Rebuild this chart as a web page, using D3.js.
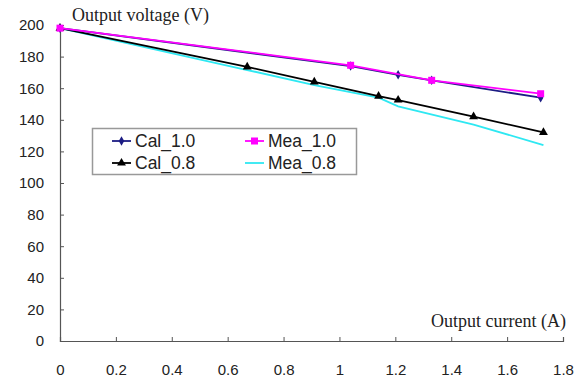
<!DOCTYPE html>
<html>
<head>
<meta charset="utf-8">
<script src="https://cdn.jsdelivr.net/npm/d3@7"></script>
<style>
  body { margin: 0; background: #fff; }
  svg { display: block; }
</style>
</head>
<body>
<div id="chart"></div>
<script>
// data
var xTicks = [0, 0.2, 0.4, 0.6, 0.8, 1, 1.2, 1.4, 1.6, 1.8];
var yTicks = [0, 20, 40, 60, 80, 100, 120, 140, 160, 180, 200];

var cal10X = [0, 1.04, 1.21, 1.33, 1.72];
var cal10Y = [198, 174, 168.5, 165, 154];
var mea10X = [0, 1.04, 1.33, 1.72];
var mea10Y = [198, 174.5, 165, 156.5];
var cal08X = [0, 0.67, 0.91, 1.14, 1.21, 1.48, 1.73];
var cal08Y = [198, 173.5, 164, 155, 152.5, 142, 132];
var mea08X = [0, 0.67, 0.91, 1.14, 1.21, 1.48, 1.73];
var mea08Y = [198, 171.5, 162, 154, 148.5, 137, 124];

var series = [
  { name: 'Cal_1.0', xs: cal10X, ys: cal10Y, color: '#1c1c84', marker: 'diamond' },
  { name: 'Mea_1.0', xs: mea10X, ys: mea10Y, color: '#ff00ff', marker: 'square' },
  { name: 'Cal_0.8', xs: cal08X, ys: cal08Y, color: '#000000', marker: 'triangle' },
  { name: 'Mea_0.8', xs: mea08X, ys: mea08Y, color: '#2ee8f2', marker: null }
];
// draw order: keep magenta above navy
var drawOrder = [3, 2, 0, 1];

var width = 585, height = 379;
var x = d3.scaleLinear().domain([0, 1.8]).range([60, 563]);
var y = d3.scaleLinear().domain([0, 200]).range([341, 25]);

var svg = d3.select('#chart').append('svg')
  .attr('width', width)
  .attr('height', height);

// axes
var xAxis = svg.append('g')
  .attr('transform', 'translate(0,341)')
  .call(d3.axisBottom(x).tickValues(xTicks).tickSize(-4).tickPadding(20)
    .tickFormat(function(d) { return d3.format('')(d); }));
var yAxis = svg.append('g')
  .attr('transform', 'translate(60,0)')
  .call(d3.axisLeft(y).tickValues(yTicks).tickSize(-4).tickPadding(16));

[xAxis, yAxis].forEach(function(a) {
  a.select('.domain').attr('stroke', '#555').attr('stroke-width', 1.2);
  a.selectAll('.tick line').attr('stroke', '#555');
  a.selectAll('.tick text')
    .attr('fill', '#222')
    .style('font-family', 'Liberation Sans, Arial, sans-serif')
    .style('font-size', '15px');
});
xAxis.selectAll('.tick text').attr('dy', '0.9em');

// axis titles
svg.append('text')
  .attr('x', 72).attr('y', 21)
  .style('font-family', 'Liberation Serif, Times New Roman, serif')
  .style('font-size', '18px')
  .attr('fill', '#222')
  .text('Output voltage (V)');
svg.append('text')
  .attr('x', 566).attr('y', 327)
  .attr('text-anchor', 'end')
  .style('font-family', 'Liberation Serif, Times New Roman, serif')
  .style('font-size', '18px')
  .attr('fill', '#222')
  .text('Output current (A)');

var line = d3.line()
  .x(function(d) { return x(d[0]); })
  .y(function(d) { return y(d[1]); });

function drawMarker(g, type, color, cx, cy) {
  if (type === 'square') {
    g.append('rect').attr('x', cx - 3.5).attr('y', cy - 3.5)
      .attr('width', 7).attr('height', 7).attr('fill', color);
  } else if (type === 'diamond') {
    g.append('path').attr('transform', 'translate(' + cx + ',' + cy + ')')
      .attr('d', d3.symbol().type(d3.symbolDiamond).size(26)()).attr('fill', color);
  } else if (type === 'triangle') {
    g.append('path').attr('transform', 'translate(' + cx + ',' + cy + ')')
      .attr('d', d3.symbol().type(d3.symbolTriangle).size(34)()).attr('fill', color);
  }
}

drawOrder.forEach(function(i) {
  var s = series[i];
  var pts = s.xs.map(function(v, j) { return [v, s.ys[j]]; });
  var g = svg.append('g');
  g.append('path')
    .attr('d', line(pts))
    .attr('fill', 'none')
    .attr('stroke', s.color)
    .attr('stroke-width', 1.8);
  pts.forEach(function(p) {
    drawMarker(g, s.marker, s.color, x(p[0]), y(p[1]));
  });
});

// legend
var legend = svg.append('g');
legend.append('rect')
  .attr('x', 92.5).attr('y', 128.5)
  .attr('width', 264).attr('height', 46)
  .attr('fill', '#fff')
  .attr('stroke', '#999')
  .attr('stroke-width', 1.5);

var legendPos = [[112, 141], [245, 141], [112, 163], [245, 163]];
series.forEach(function(s, i) {
  var lx = legendPos[i][0], ly = legendPos[i][1];
  legend.append('line')
    .attr('x1', lx).attr('x2', lx + 19)
    .attr('y1', ly).attr('y2', ly)
    .attr('stroke', s.color).attr('stroke-width', 1.8);
  drawMarker(legend, s.marker, s.color, lx + 9.5, ly);
  legend.append('text')
    .attr('x', lx + 23).attr('y', ly)
    .attr('dy', '0.36em')
    .style('font-family', 'Liberation Sans, Arial, sans-serif')
    .style('font-size', '17.5px')
    .attr('fill', '#222')
    .text(s.name);
});
</script>
</body>
</html>
